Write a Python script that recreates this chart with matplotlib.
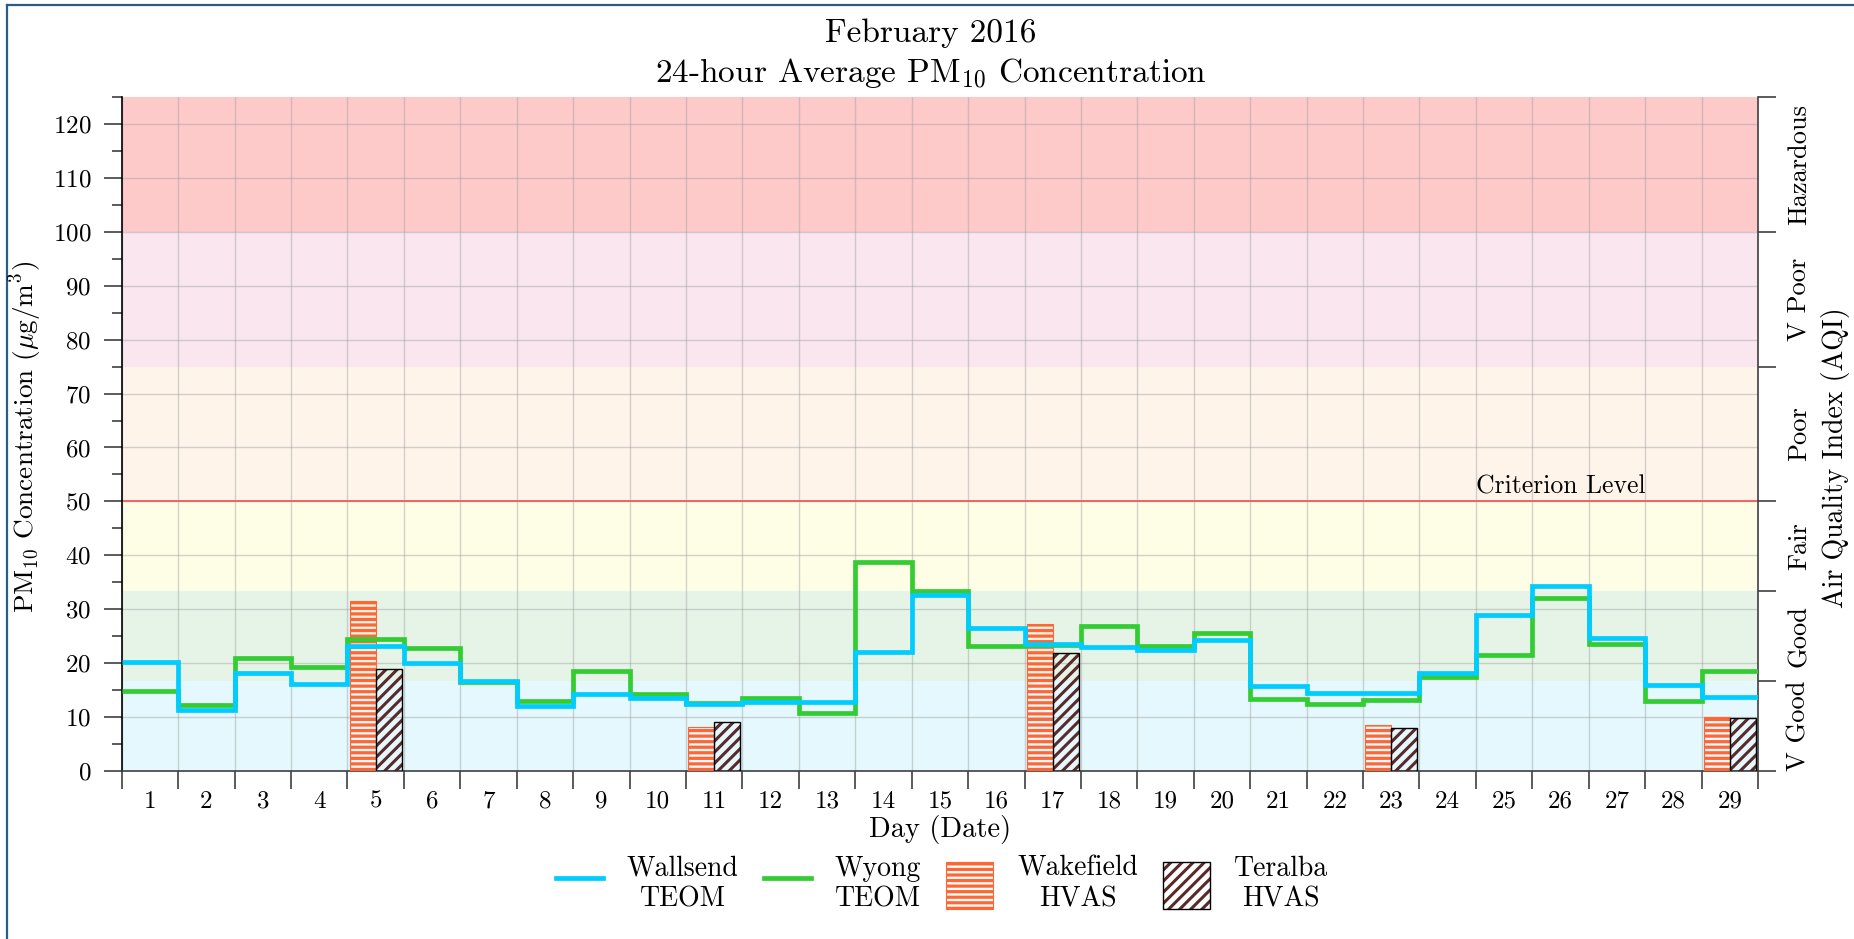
import numpy as np
import matplotlib
matplotlib.use("Agg")
from matplotlib import pyplot as plt
from matplotlib.lines import Line2D
from matplotlib.patches import Patch
from matplotlib.legend_handler import HandlerTuple
from matplotlib.ticker import FixedLocator, NullFormatter, FixedFormatter

plt.rcParams["font.family"] = "cmr10"
plt.rcParams["mathtext.fontset"] = "cm"
plt.rcParams["axes.formatter.use_mathtext"] = True
plt.rcParams["axes.unicode_minus"] = False

# daily 24-hour averages (ug/m3)
days = np.arange(1, 30)
wallsend_teom = [20.2, 11.4, 18.2, 16.2, 23.2, 20.1, 16.6, 12.0, 14.3, 13.6,
                 12.5, 12.8, 12.8, 22.1, 32.7, 26.6, 23.6, 23.0, 22.5, 24.3,
                 15.7, 14.5, 14.4, 18.1, 29.0, 34.3, 24.7, 15.9, 13.7]
wyong_teom = [14.8, 12.3, 20.9, 19.3, 24.4, 22.8, 16.5, 12.9, 18.5, 14.3,
              12.6, 13.6, 10.7, 38.7, 33.4, 23.2, 23.3, 26.8, 23.2, 25.6,
              13.4, 12.5, 13.1, 17.5, 21.5, 32.1, 23.6, 12.9, 18.5]

# HVAS samples (every 6th day)
hvas_days = [5, 11, 17, 23, 29]
wakefield_hvas = [31.5, 8.1, 27.3, 8.6, 10.1]
teralba_hvas = [19.0, 9.0, 21.9, 7.9, 9.8]

# AQI bands
aqi_edges = [0, 16.7, 33.3, 50, 75, 100, 125]
aqi_names = ["V Good", "Good", "Fair", "Poor", "V Poor", "Hazardous"]
aqi_colors = ["#e4f8fd", "#e6f4e8", "#fefee6", "#fef4ea", "#fae6ef", "#fec9c9"]
criterion = 50

ORANGE, BROWN = "#ff6633", "#5a2a2a"
WK_HATCH, TB_HATCH = "---", "///"
WK_HLW, TB_HLW = 2.3, 2.2
W, H = 1854, 939
fig = plt.figure(figsize=(W / 100, H / 100), dpi=100)
ax = fig.add_axes([121.8 / W, 1 - 771 / H, (1758 - 121.8) / W, (771 - 97) / H])

# background bands
for lo, hi, col in zip(aqi_edges[:-1], aqi_edges[1:], aqi_colors):
    ax.axhspan(lo, hi, color=col, zorder=0.1, lw=0)

ax.axhline(criterion, color="#f05a5a", lw=1.3, zorder=2)
ax.text(26, criterion + 0.6, "Criterion Level", ha="center", va="bottom", fontsize=18.5)


def set_hatch_lw(patches, lw):
    for p in patches:
        if hasattr(p, "set_hatch_linewidth"):
            p.set_hatch_linewidth(lw)


# HVAS bars
hx = np.array(hvas_days, dtype=float)
bw = 0.46
with plt.rc_context({"hatch.linewidth": WK_HLW}):
    wk = ax.bar(hx - bw / 2, wakefield_hvas, width=bw, facecolor="none",
                edgecolor=ORANGE, hatch=WK_HATCH, lw=0.8, zorder=3)
with plt.rc_context({"hatch.linewidth": TB_HLW}):
    tb = ax.bar(hx + bw / 2, teralba_hvas, width=bw, facecolor="none",
                edgecolor=BROWN, hatch=TB_HATCH, lw=0, zorder=3)
set_hatch_lw(wk, WK_HLW)
set_hatch_lw(tb, TB_HLW)
ax.bar(hx + bw / 2, teralba_hvas, width=bw, facecolor="none",
       edgecolor="black", lw=1.0, zorder=3)

# TEOM step lines
edges = np.arange(0.5, 30.5, 1.0)
ax.stairs(wyong_teom, edges, baseline=None, color="#33cc33", lw=3.4, zorder=4)
ax.stairs(wallsend_teom, edges, baseline=None, color="#00ccff", lw=3.4, zorder=5)

ax.set_xlim(0.5, 29.5)
ax.set_ylim(0, 125)

# x axis: ticks on day boundaries, labels centred on days
ax.xaxis.set_major_locator(FixedLocator(edges))
ax.xaxis.set_major_formatter(NullFormatter())
ax.xaxis.set_minor_locator(FixedLocator(days))
ax.xaxis.set_minor_formatter(FixedFormatter([str(d) for d in days]))
ax.tick_params(axis="x", which="major", direction="out", length=13, width=1.2, color="#404040")
ax.tick_params(axis="x", which="minor", length=0, pad=14, labelsize=18)

ax.set_yticks(np.arange(0, 121, 10))
ax.set_yticks(np.arange(0, 126, 5), minor=True)
ax.tick_params(axis="y", which="major", direction="out", length=13, width=1.2,
               color="#404040", pad=9, labelsize=18)
ax.tick_params(axis="y", which="minor", direction="out", length=7, width=1.2, color="#404040")

ax.grid(True, which="major", color="#a0a0a0", alpha=0.45, lw=1)
ax.set_axisbelow(True)

ax.spines["top"].set_visible(False)
ax.spines["left"].set_color("black")
ax.spines["bottom"].set_color("#404040")
ax.spines["right"].set_color("#404040")
for s in ax.spines.values():
    s.set_linewidth(1.2)

# right axis with AQI categories
ax2 = ax.twinx()
ax2.set_ylim(0, 125)
ax2.yaxis.set_major_locator(FixedLocator(aqi_edges))
ax2.yaxis.set_major_formatter(NullFormatter())
centres = [(a + b) / 2 for a, b in zip(aqi_edges[:-1], aqi_edges[1:])]
ax2.yaxis.set_minor_locator(FixedLocator(centres))
ax2.yaxis.set_minor_formatter(FixedFormatter(aqi_names))
ax2.tick_params(axis="y", which="major", direction="out", length=13, width=1.2, color="#404040")
ax2.tick_params(axis="y", which="minor", length=0, pad=21, labelsize=19, labelrotation=90)
for t in ax2.yaxis.get_minorticklabels():
    t.set_va("center")
for s in ax2.spines.values():
    s.set_visible(False)

fig.text(931 / W, 1 - 33 / H, "February 2016", ha="center", va="center", fontsize=24)
fig.text(931 / W, 1 - 73 / H, "24-hour Average PM$_{10}$ Concentration",
         ha="center", va="center", fontsize=24)
fig.text(26 / W, 1 - 437 / H, r"PM$_{10}$ Concentration ($\mu$g/m$^3$)",
         rotation=90, ha="center", va="center", fontsize=19.6)
fig.text(1835 / W, 1 - 458 / H, "Air Quality Index (AQI)",
         rotation=90, ha="center", va="center", fontsize=20)
fig.text(940 / W, 1 - 829 / H, "Day (Date)", ha="center", va="center", fontsize=20.5)

handles = [
    Line2D([], [], color="#00ccff", lw=3.4),
    Line2D([], [], color="#33cc33", lw=3.4),
    Patch(facecolor="white", edgecolor=ORANGE, hatch=WK_HATCH, lw=0.8),
    (Patch(facecolor="white", edgecolor=BROWN, hatch=TB_HATCH, lw=0),
     Patch(facecolor="none", edgecolor="black", lw=1.0)),
]
labels = ["Wallsend\nTEOM", "Wyong\nTEOM", "Wakefield\nHVAS", "Teralba\nHVAS"]
leg = fig.legend(handles, labels, loc="center", bbox_to_anchor=(942 / W, 1 - 884 / H),
                 ncol=4, frameon=False, fontsize=20, handlelength=1.7, handleheight=2.27,
                 handletextpad=0.86, columnspacing=0.9,
                 handler_map={tuple: HandlerTuple(ndivide=1, pad=0)})
for t in leg.get_texts():
    t.set_multialignment("center")
for p in leg.findobj(lambda a: hasattr(a, "get_hatch")):
    if p.get_hatch() == WK_HATCH:
        set_hatch_lw([p], WK_HLW)
    elif p.get_hatch() == TB_HATCH:
        set_hatch_lw([p], TB_HLW)

# figure frame (left and top edges visible)
fig.add_artist(Line2D([7 / W, 7 / W], [0, 1 - 5 / H], color="#2a5c8a", lw=1.6))
fig.add_artist(Line2D([7 / W, 1], [1 - 5 / H, 1 - 5 / H], color="#2a5c8a", lw=1.6))

fig.savefig("out.png", dpi=100)
